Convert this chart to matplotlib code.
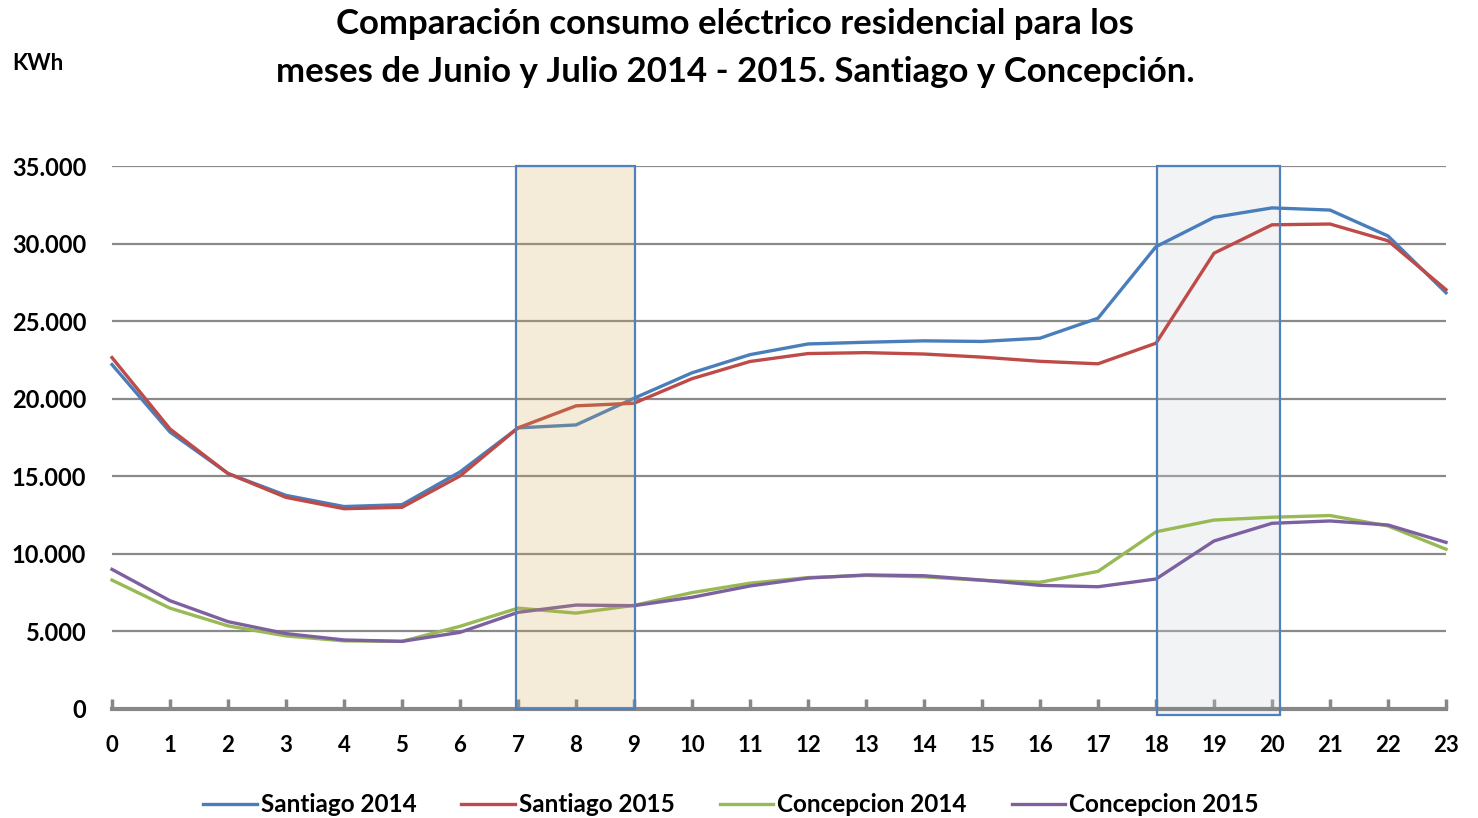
import matplotlib
matplotlib.use("Agg")
import matplotlib.pyplot as plt
from matplotlib.patches import Rectangle
from matplotlib.lines import Line2D

hours = list(range(24))
santiago_2014 = [22200, 17850, 15180, 13770, 13050, 13170, 15280, 18120, 18310, 20030, 21670, 22840,
                 23530, 23640, 23730, 23690, 23900, 25190, 29800, 31690, 32300, 32160, 30490, 26830]
santiago_2015 = [22650, 18050, 15180, 13640, 12910, 13000, 15020, 18120, 19540, 19710, 21290, 22400,
                 22910, 22970, 22880, 22680, 22410, 22250, 23580, 29380, 31210, 31260, 30180, 27030]
concepcion_2014 = [8310, 6500, 5360, 4710, 4390, 4360, 5330, 6500, 6180, 6680, 7500, 8110,
                   8470, 8610, 8520, 8290, 8170, 8870, 11420, 12180, 12360, 12470, 11800, 10300]
concepcion_2015 = [9000, 6980, 5630, 4860, 4450, 4360, 4940, 6230, 6700, 6660, 7200, 7930,
                   8440, 8640, 8590, 8310, 7970, 7880, 8380, 10830, 11970, 12120, 11860, 10740]
series_names = ["Santiago 2014", "Santiago 2015", "Concepcion 2014", "Concepcion 2015"]
y_ticks = [0, 5000, 10000, 15000, 20000, 25000, 30000, 35000]
y_tick_labels = ["0", "5.000", "10.000", "15.000", "20.000", "25.000", "30.000", "35.000"]
title = "Comparación consumo eléctrico residencial para los\nmeses de Junio y Julio 2014 - 2015. Santiago y Concepción."
highlight_morning = (6.97, 9.02)
highlight_evening = (18.02, 20.14)

colors = ["#4A7EBB", "#BE4B48", "#98B954", "#7D60A0"]
FONT = "Lato"

fig = plt.figure(figsize=(14.78, 8.18), dpi=100)
ax = fig.add_axes([112/1478, 1-709/818, (1446-112)/1478, (709-166)/818])

ax.set_xlim(0, 23)
ax.set_ylim(0, 35000)

for yv in y_ticks[1:]:
    ax.axhline(yv, color="#8A8A8A", lw=1.6, zorder=1)

# evening highlight (light overlay, behind lines)
x0, x1 = highlight_evening
ax.add_patch(Rectangle((x0, -390), x1 - x0, 35000 + 390, facecolor="#CDD4DC", alpha=0.26,
                       edgecolor="none", zorder=2, clip_on=False))

all_series = [santiago_2014, santiago_2015, concepcion_2014, concepcion_2015]
for s, c, n in zip(all_series, colors, series_names):
    ax.plot(hours, s, color=c, lw=2.4, label=n, zorder=3, solid_joinstyle="miter", clip_on=False)

# morning highlight (translucent overlay on top of lines)
x0, x1 = highlight_morning
ax.add_patch(Rectangle((x0, 0), x1 - x0, 35000, facecolor="#CDA94E", alpha=0.22,
                       edgecolor="none", zorder=4, clip_on=False))
ax.add_patch(Rectangle((x0, 0), x1 - x0, 35000, facecolor="none", edgecolor="#4F81BD",
                       lw=1.6, zorder=6, clip_on=False))
x0, x1 = highlight_evening
ax.add_patch(Rectangle((x0, -390), x1 - x0, 35000 + 390, facecolor="none", edgecolor="#4F81BD",
                       lw=1.6, zorder=6, clip_on=False))

for sp in ["left", "right", "top"]:
    ax.spines[sp].set_visible(False)
ax.spines["bottom"].set_color("#878787")
ax.spines["bottom"].set_linewidth(3)
ax.spines["bottom"].set_zorder(5)

ax.set_xticks(hours)
ax.set_xticklabels([str(h) for h in hours], fontsize=16, fontweight="bold", family=FONT)
ax.tick_params(axis="x", direction="in", length=7, width=2.5, color="#878787", pad=19)
ax.set_yticks(y_ticks)
ax.set_yticklabels(y_tick_labels, fontsize=17, fontweight="bold", family=FONT)
ax.tick_params(axis="y", length=0, pad=18.5)

fig.text(735/1478, 1-48/818, title, ha="center", va="center", fontsize=25, fontweight="bold",
         family=FONT, linespacing=1.62)
fig.text(12/1478, 1-63/818, "KWh", ha="left", va="center", fontsize=16, fontweight="bold", family=FONT)

handles = [Line2D([], [], color=c, lw=2.4) for c in colors]
fig.legend(handles, series_names, loc="center", bbox_to_anchor=(731/1478, 1-805/818), ncol=4,
           frameon=False, handlelength=2.2, handletextpad=0.17, columnspacing=1.85,
           prop={"family": FONT, "weight": "bold", "size": 17.5})

fig.savefig("out.png", dpi=100)
